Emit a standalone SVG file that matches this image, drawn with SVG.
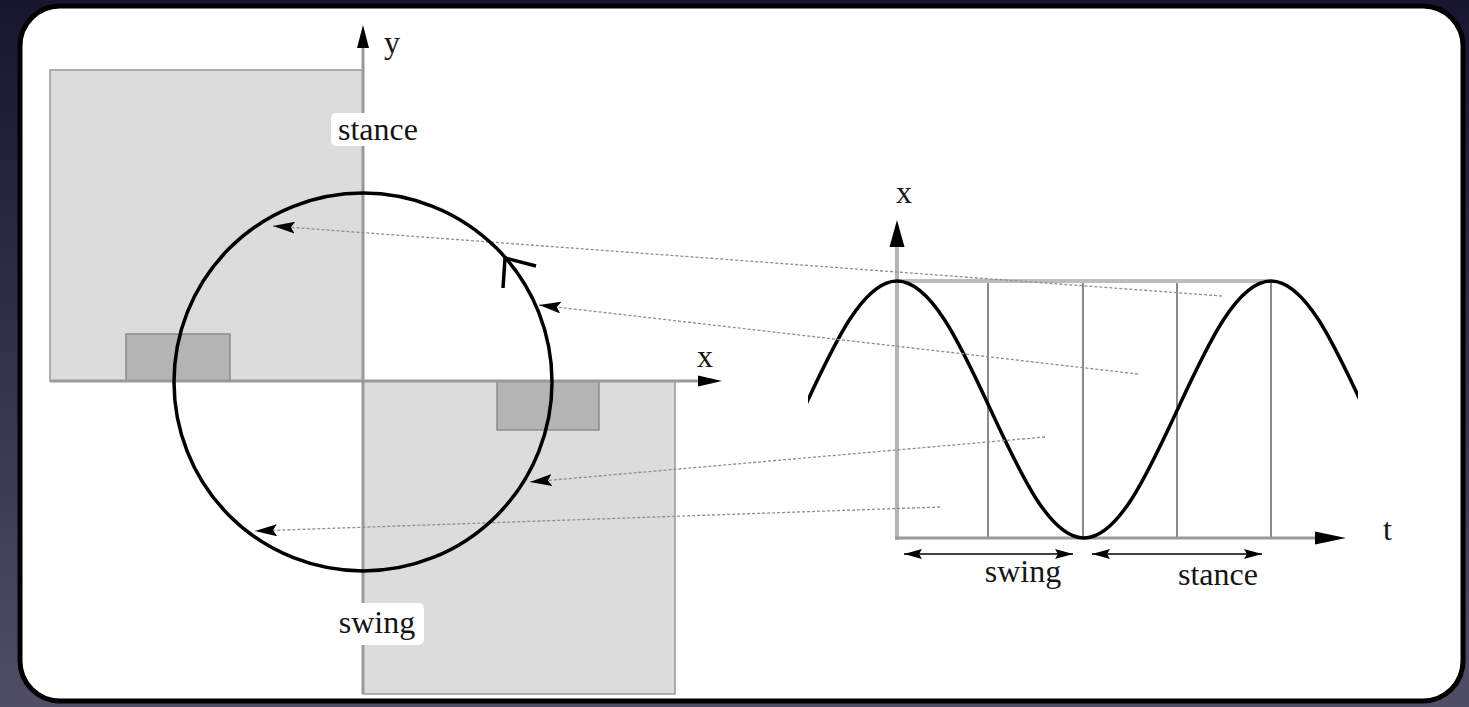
<svg xmlns="http://www.w3.org/2000/svg" width="1469" height="707" viewBox="0 0 1469 707">
  <defs>
    <linearGradient id="bg" x1="0" y1="0" x2="0" y2="1">
      <stop offset="0" stop-color="#16162e"/>
      <stop offset="1" stop-color="#4e4e66"/>
    </linearGradient>
    <marker id="dotArrow" markerUnits="userSpaceOnUse" viewBox="0 0 22 12" markerWidth="22" markerHeight="12" refX="22" refY="6" orient="auto">
      <path d="M0,0 L22,6 L0,12 L4,6 z" fill="#000"/>
    </marker>
    <marker id="dimArrow" markerUnits="userSpaceOnUse" viewBox="0 0 18 10" markerWidth="18" markerHeight="10" refX="18" refY="5" orient="auto-start-reverse">
      <path d="M0,0 L18,5 L0,10 L3,5 z" fill="#000"/>
    </marker>
    <clipPath id="sineClip">
      <rect x="808" y="250" width="550" height="300"/>
    </clipPath>
    <style>
      .lbl { font-family: "Liberation Serif", "Times New Roman", serif; font-size: 32px; fill: #151515; }
      .big { fill: #dcdcdc; stroke: #999; stroke-width: 1.5; }
      .small { fill: #b4b4b4; stroke: #8c8c8c; stroke-width: 1.5; }
      .axis { stroke: #9a9a9a; stroke-width: 3; fill: none; }
      .grid { stroke: #8a8a8a; stroke-width: 2; fill: none; }
      .dots { stroke: #8f8f8f; stroke-width: 1.3; stroke-dasharray: 3 2; fill: none; marker-end: url(#dotArrow); }
      .curve { stroke: #000; stroke-width: 3.5; fill: none; }
      .dim { stroke: #000; stroke-width: 1.5; fill: none; marker-start: url(#dimArrow); marker-end: url(#dimArrow); }
      .head { fill: #000; }
    </style>
  </defs>

  <rect x="0" y="0" width="1469" height="707" fill="url(#bg)"/>
  <rect id="panel" x="20" y="6" width="1443" height="695" rx="40" ry="40" fill="#fff" stroke="#000" stroke-width="5"/>

  <g id="stance-region">
    <rect class="big" x="50" y="70" width="313" height="311"/>
  </g>
  <g id="swing-region">
    <rect class="big" x="363" y="381" width="312" height="313"/>
  </g>
  <g id="foot-left">
    <rect class="small" x="126" y="334" width="104" height="47"/>
  </g>
  <g id="foot-right">
    <rect class="small" x="497" y="381" width="102" height="49"/>
  </g>

  <g id="left-axes">
    <line class="axis" x1="363" y1="46" x2="363" y2="694"/>
    <path class="head" d="M363,25 L369,48 L357,48 z"/>
    <line class="axis" x1="50" y1="381" x2="700" y2="381"/>
    <path class="head" d="M722,381 L698,375.5 L698,386.5 z"/>
  </g>

  <g id="right-graph">
    <line class="grid" x1="988" y1="281" x2="988" y2="538"/>
    <line class="grid" x1="1083" y1="281" x2="1083" y2="538"/>
    <line class="grid" x1="1177" y1="281" x2="1177" y2="538"/>
    <line class="grid" x1="1271" y1="281" x2="1271" y2="538"/>
    <line stroke="#bdbdbd" stroke-width="4" x1="897" y1="281" x2="1271" y2="281"/>
    <line stroke="#b4b4b4" stroke-width="4" x1="897" y1="540" x2="897" y2="244"/>
    <path class="head" d="M897,220 L904.5,247 L889.5,247 z"/>
    <line class="axis" x1="895" y1="538" x2="1320" y2="538"/>
    <path class="head" d="M1346,538 L1315,531.5 L1315,544.5 z"/>
    <path class="curve" clip-path="url(#sineClip)" d="M803.5,409.5 C833.99,343.67 863.16,281 897,281 C930.84,281 960.01,343.67 990.5,409.5 C1020.99,475.33 1050.16,538 1084,538 C1117.84,538 1147.01,475.33 1177.5,409.5 C1207.99,343.67 1237.16,281 1271,281 C1304.84,281 1334.01,343.67 1364.5,409.5"/>
    <line class="dim" x1="904" y1="554" x2="1073" y2="554"/>
    <line class="dim" x1="1092" y1="554" x2="1262" y2="554"/>
  </g>

  <g id="connectors">
    <path class="dots" d="M1222,296 L273,226"/>
    <path class="dots" d="M1138,374 L539,305"/>
    <path class="dots" d="M1045,437 L530,482"/>
    <path class="dots" d="M940,507 L255,531"/>
  </g>

  <g id="cycle">
    <circle class="curve" cx="363" cy="382" r="189"/>
    <path d="M503,288 L505,258 L536,266" stroke="#000" stroke-width="3.5" fill="none"/>
  </g>

  <g id="labels">
    <text class="lbl" x="384" y="53">y</text>
    <text class="lbl" x="697" y="367">x</text>
    <text class="lbl" x="896" y="203">x</text>
    <text class="lbl" x="1383" y="540">t</text>
    <g id="label-stance-left">
      <rect x="331" y="113" width="92" height="33" rx="5" fill="#fff"/>
      <text class="lbl" x="378" y="140" text-anchor="middle">stance</text>
    </g>
    <g id="label-swing-left">
      <rect x="332" y="603" width="92" height="42" rx="5" fill="#fff"/>
      <text class="lbl" x="377" y="633" text-anchor="middle">swing</text>
    </g>
    <text class="lbl" x="1023" y="582" text-anchor="middle">swing</text>
    <text class="lbl" x="1218" y="585" text-anchor="middle">stance</text>
  </g>
</svg>
